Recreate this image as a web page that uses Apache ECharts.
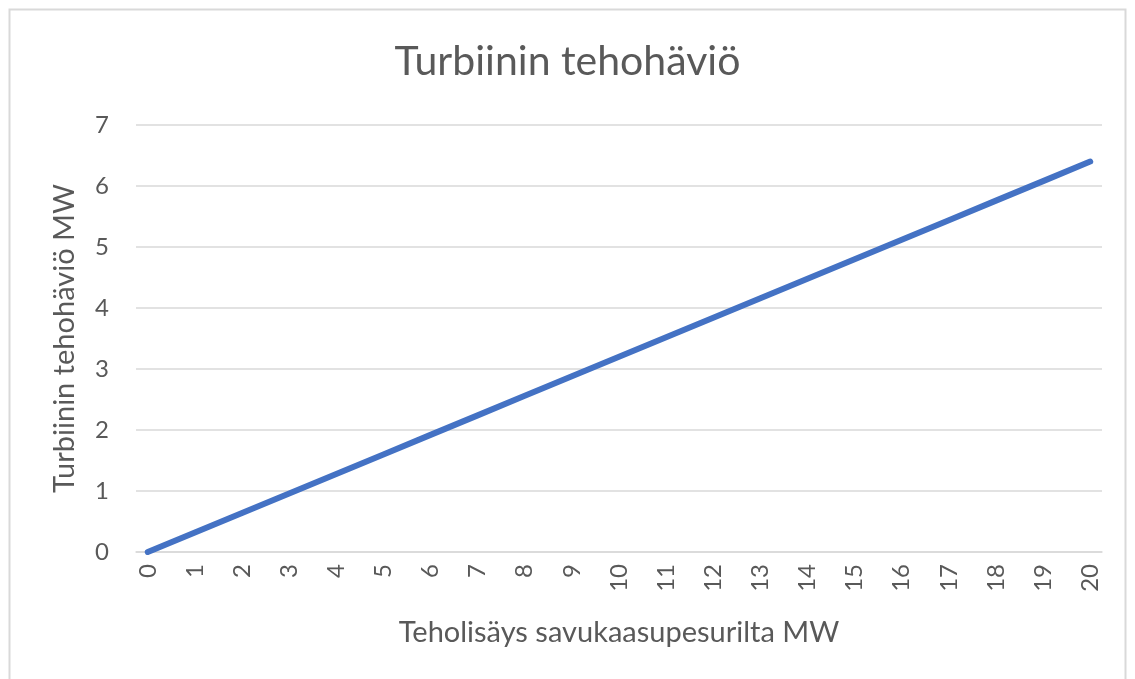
<!DOCTYPE html>
<html>
<head>
<meta charset="utf-8">
<script src="https://cdn.jsdelivr.net/npm/echarts@6/dist/echarts.min.js"></script>
<style>
html,body{margin:0;padding:0;background:#fff;}
#chart{width:1135px;height:679px;}
</style>
</head>
<body>
<div id="chart"></div>
<script>
const titleText = "Turbiinin tehohäviö";
const xName = "Teholisäys savukaasupesurilta MW";
const yName = "Turbiinin tehohäviö MW";
const xValues = [0,1,2,3,4,5,6,7,8,9,10,11,12,13,14,15,16,17,18,19,20];
const yValues = [0,0.32,0.64,0.96,1.28,1.6,1.92,2.24,2.56,2.88,3.2,3.52,3.84,4.16,4.48,4.8,5.12,5.44,5.76,6.08,6.4];
const yTicks = [0,1,2,3,4,5,6,7];

const FONT = "Lato";
const TXT = "#595959";
const chart = echarts.init(document.getElementById('chart'), null, {renderer:'canvas'});
chart.setOption({
  animation:false,
  backgroundColor:'#fff',
  graphic:[{type:'rect', shape:{x:9.5,y:9.5,width:1116,height:700}, style:{fill:'none', stroke:'#d9d9d9', lineWidth:2}, silent:true}],
  title:{text:titleText, left:'center', top:36, textStyle:{fontFamily:FONT, fontSize:41, fontWeight:'normal', color:TXT}},
  grid:{left:136, right:33, top:125, bottom:127, containLabel:false},
  xAxis:{
    type:'value', min:-0.25, max:20.25,
    name:xName, nameLocation:'middle', nameGap:66,
    nameTextStyle:{fontFamily:FONT, fontSize:29, color:TXT},
    axisLine:{show:true, lineStyle:{color:'#d9d9d9', width:1.5}},
    axisTick:{show:false},
    splitLine:{show:false},
    axisLabel:{customValues:xValues, rotate:90, fontFamily:FONT, fontSize:24, color:TXT, margin:12, formatter:v=>String(v)}
  },
  yAxis:{
    type:'value', min:yTicks[0], max:yTicks[yTicks.length-1], interval:1,
    name:yName, nameLocation:'middle', nameGap:57,
    nameTextStyle:{fontFamily:FONT, fontSize:29, color:TXT},
    axisLine:{show:false}, axisTick:{show:false},
    splitLine:{lineStyle:{color:'#d9d9d9', width:1.5}},
    axisLabel:{fontFamily:FONT, fontSize:24, color:TXT, margin:27}
  },
  series:[{
    type:'line', data:xValues.map((x,i)=>[x,yValues[i]]),
    showSymbol:false, lineStyle:{color:'#4472C4', width:6, cap:'round', join:'round'}
  }]
});
</script>
</body>
</html>
